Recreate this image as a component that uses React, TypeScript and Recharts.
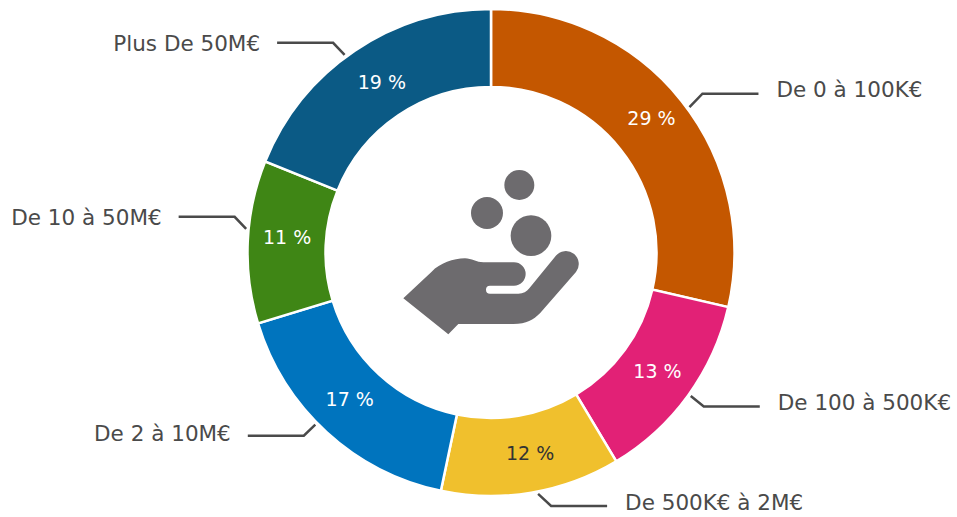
import { Cell, Pie, PieChart } from 'recharts';

const categories = [
  'De 0 à 100K€',
  'De 100 à 500K€',
  'De 500K€ à 2M€',
  'De 2 à 10M€',
  'De 10 à 50M€',
  'Plus De 50M€',
];
const shares = [28.6, 12.8, 11.9, 17.0, 10.8, 18.9];
const colors = ['#C45700', '#E22176', '#F0C02D', '#0074BE', '#3F8615', '#0B5A85'];
const percentColors = ['#FFFFFF', '#FFFFFF', '#333333', '#FFFFFF', '#FFFFFF', '#FFFFFF'];

// labels and leaders do not sit exactly on the middle of each slice
const leaderAngleShift = [2.3, -0.3, -1.5, 3.1, 3, -2.5];
const elbowDy = [-13.5, 10.5, 12, 11, -12, -12];
const labelDy = [-4, -4, -3, -2, 1, 1];
const percentAngleShift = [1.5, 0.5, 1.5, -1.5, -1.9, -1.4];
const percentRadiusShift = [5, 0, 0, -1, 0, -2];

const data = categories.map((name, i) => ({ name, value: shares[i] }));

const RADIAN = Math.PI / 180;
const FONT = '"DejaVu Sans", Verdana, sans-serif';

function renderLabel(props: any) {
  const { cx, cy, midAngle, innerRadius, outerRadius, index } = props;
  const polar = (r: number, deg: number) => ({
    x: cx + r * Math.cos(-deg * RADIAN),
    y: cy + r * Math.sin(-deg * RADIAN),
  });

  const inner = polar(
    (innerRadius + outerRadius) / 2 + percentRadiusShift[index],
    midAngle + percentAngleShift[index],
  );
  const start = polar(outerRadius + 2.5, midAngle - leaderAngleShift[index]);
  const right = start.x > cx;
  const elbow = {
    x: start.x + (right ? 13 : -11.5),
    y: start.y + elbowDy[index],
  };
  const end = { x: elbow.x + (right ? 56 : -56), y: elbow.y };

  return (
    <g key={index}>
      <text
        x={inner.x}
        y={inner.y}
        fill={percentColors[index]}
        fontSize={19}
        fontFamily={FONT}
        textAnchor="middle"
        dominantBaseline="central"
      >
        {Math.round(shares[index])} %
      </text>
      <polyline
        points={`${start.x},${start.y} ${elbow.x},${elbow.y} ${end.x},${end.y}`}
        fill="none"
        stroke="#4A4A4A"
        strokeWidth={2.5}
      />
      <text
        x={end.x + (right ? 18 : -17)}
        y={end.y + labelDy[index]}
        fill="#4A4A4A"
        fontSize={21.5}
        fontFamily={FONT}
        textAnchor={right ? 'start' : 'end'}
        dominantBaseline="central"
      >
        {categories[index]}
      </text>
    </g>
  );
}

function HandIcon() {
  return (
    <g transform="translate(390 150) scale(0.3333)" fill="#6D6B6E">
      <circle cx={388} cy={105} r={45} />
      <circle cx={291} cy={189} r={48} />
      <circle cx={423} cy={257} r={61} />
      <path d="M40 445 L125 365 C150 340 190 325 225 325 C245 325 260 337 280 337 L372 337 A35 35 0 0 1 372 407 L300 407 A12 12 0 0 0 300 431 L385 431 C400 431 410 425 418 415 L497 318 A38 38 0 0 1 558 366 L450 490 C430 510 410 522 370 522 L205 522 L175 553 Z" />
    </g>
  );
}

export default function App() {
  return (
    <div style={{ position: 'absolute', left: 0, top: 0 }}>
      <PieChart width={957} height={517} margin={{ top: 0, right: 0, bottom: 0, left: 0 }}>
        <Pie
          data={data}
          dataKey="value"
          nameKey="name"
          cx={491}
          cy={252.5}
          innerRadius={165.5}
          outerRadius={243.5}
          startAngle={90}
          endAngle={-270}
          stroke="#FFFFFF"
          strokeWidth={2.5}
          label={renderLabel}
          labelLine={false}
          isAnimationActive={false}
        >
          {data.map((entry, i) => (
            <Cell key={entry.name} fill={colors[i]} />
          ))}
        </Pie>
        <HandIcon />
      </PieChart>
    </div>
  );
}
